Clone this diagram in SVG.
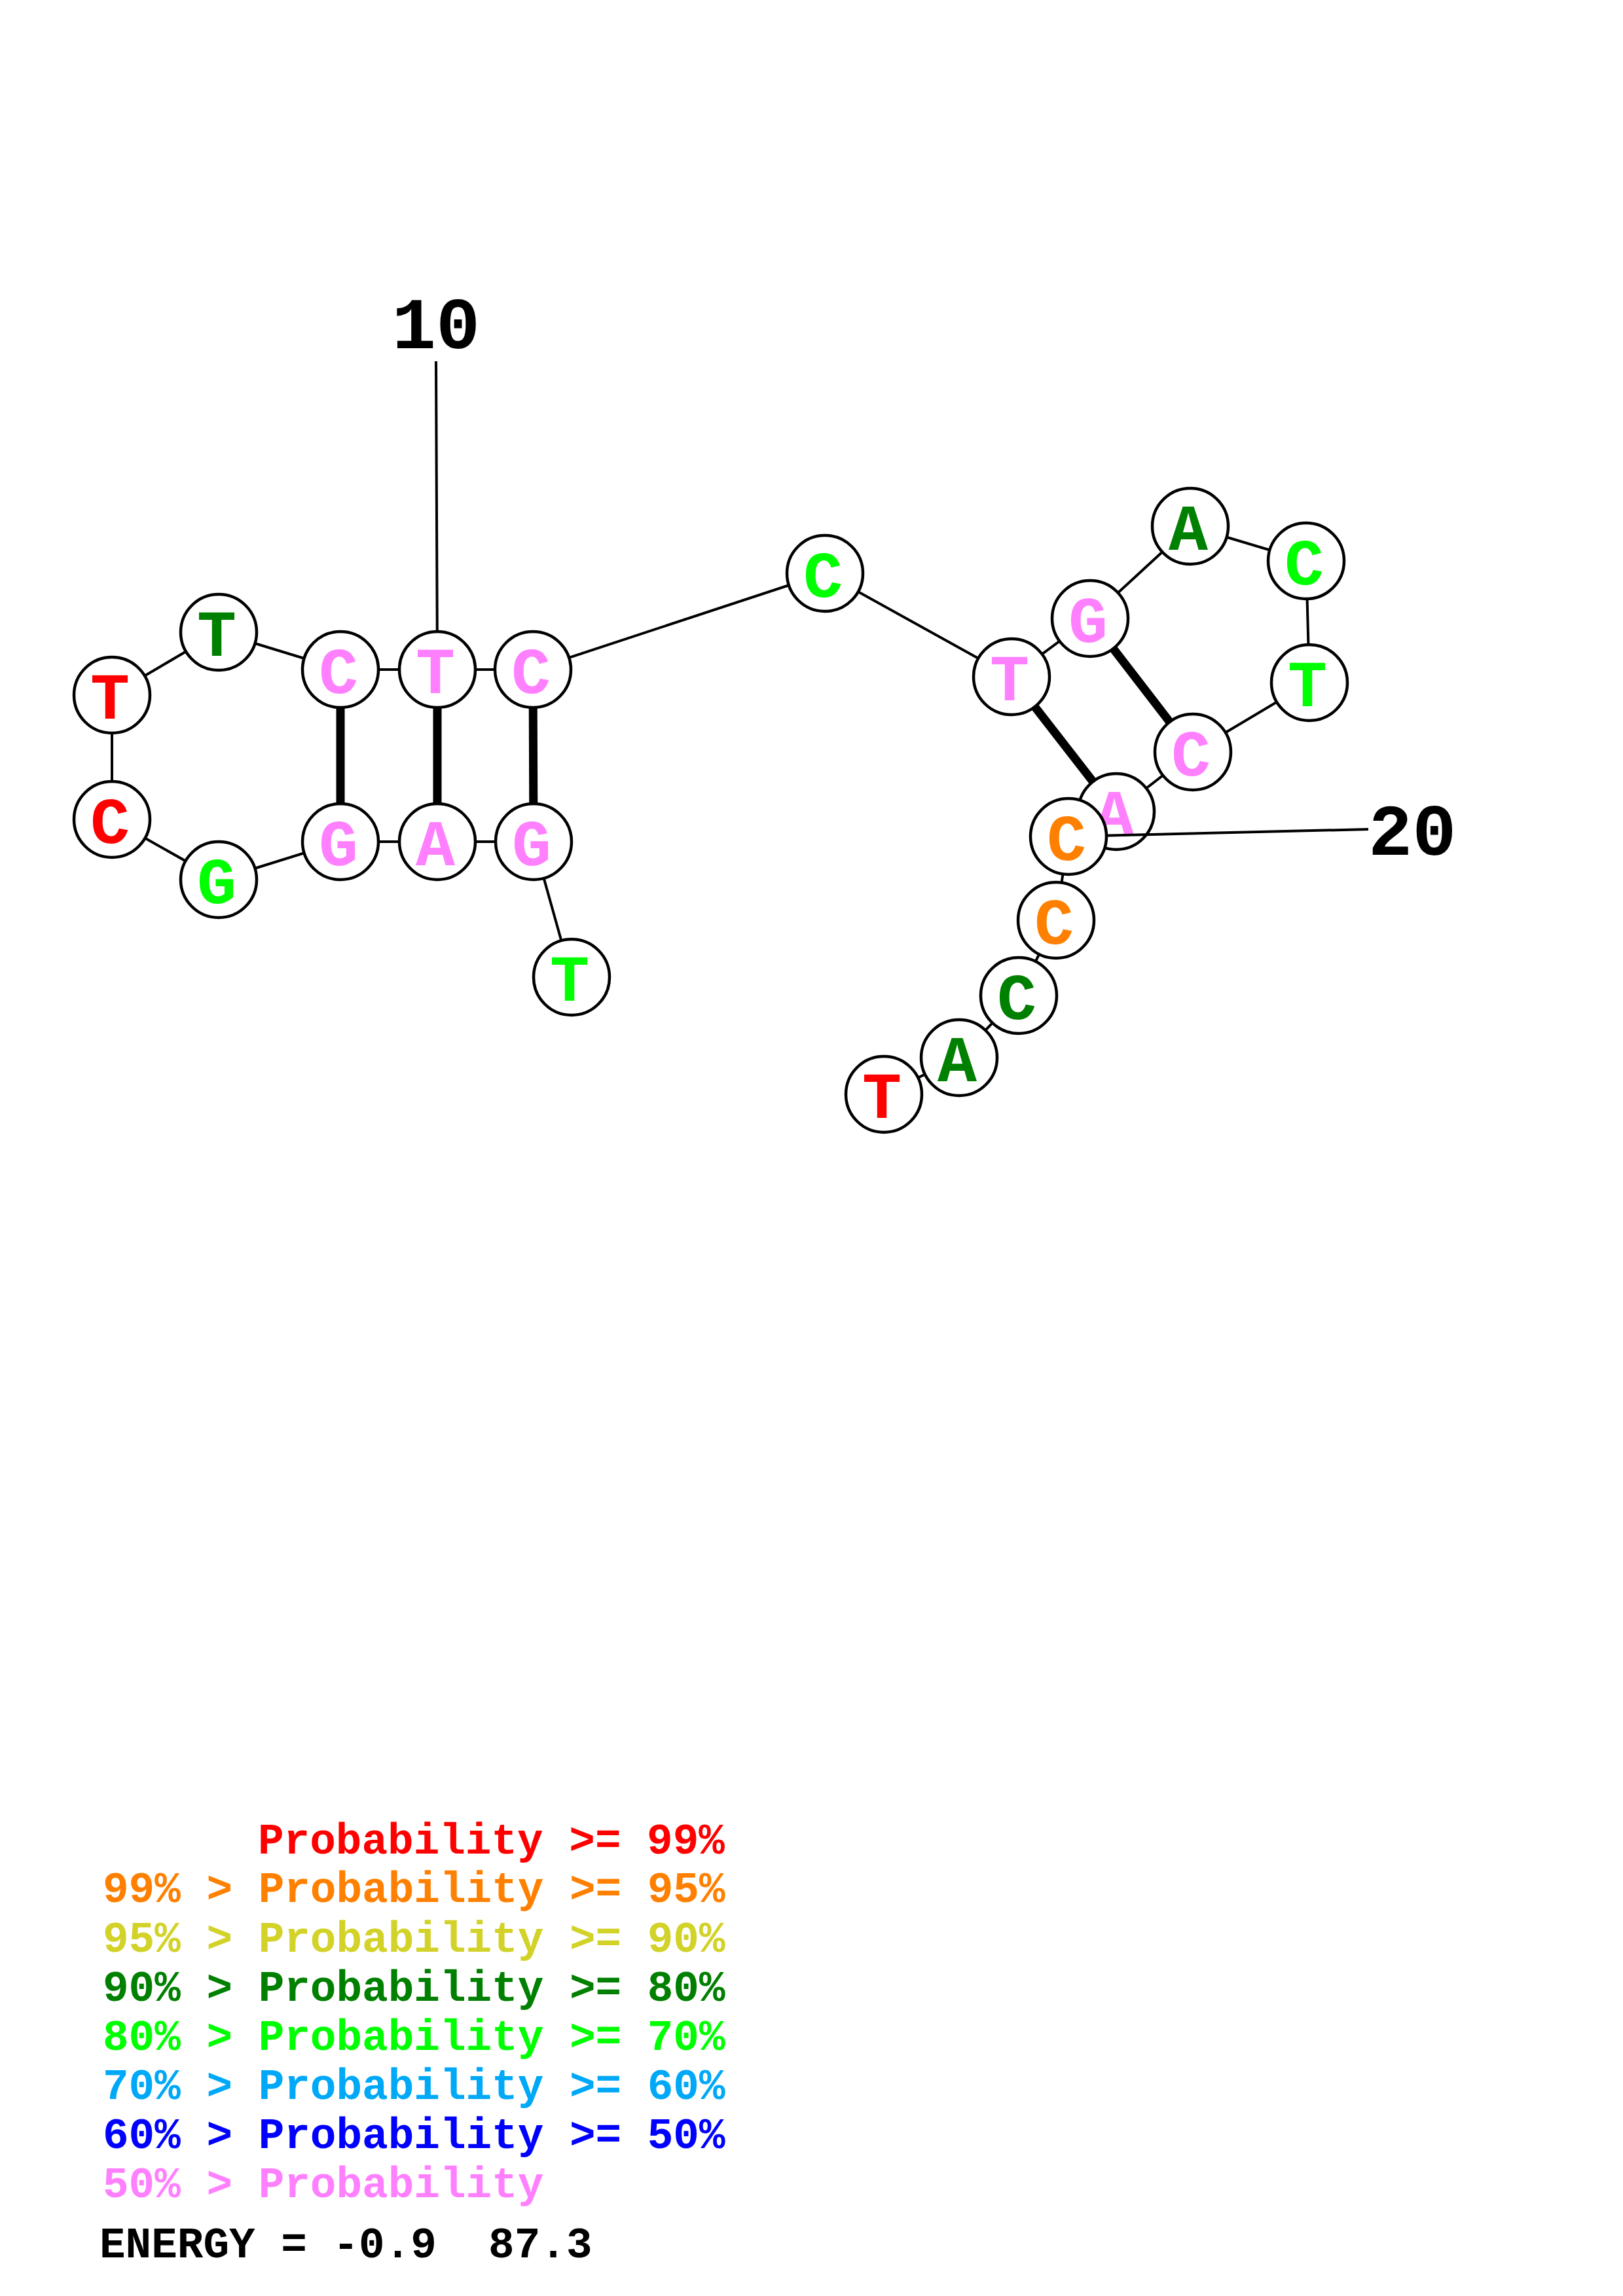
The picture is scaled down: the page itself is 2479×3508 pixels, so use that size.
<svg xmlns="http://www.w3.org/2000/svg" width="2479" height="3508" viewBox="0 0 2479 3508">
<style>
.bb{stroke:#000;stroke-width:4;fill:none}
.bp{stroke:#000;stroke-width:13;fill:none}
.nc{fill:#fff;stroke:#000;stroke-width:4.5}
.nt{font-family:"Liberation Mono","DejaVu Sans Mono",monospace;font-weight:bold;font-size:100px;text-anchor:middle}
.lbl{font-family:"Liberation Mono","DejaVu Sans Mono",monospace;font-weight:bold;font-size:112px;fill:#000}
.lg{font-family:"Liberation Mono","DejaVu Sans Mono",monospace;font-weight:bold;font-size:66px;white-space:pre}
.red{fill:#ff0000}.org{fill:#ff8000}.yel{fill:#d2d228}.dg{fill:#008000}.gr{fill:#00ff00}.lb{fill:#00a8f8}.bl{fill:#0000ff}.pk{fill:#ff80ff}.blk{fill:#000}
</style>
<defs>
<circle id="n" r="58" class="nc"/>
</defs>
<g id="connectors">
<line class="bb" x1="666" y1="552" x2="668" y2="1023"/>
<polyline class="bb" points="873,1493 815,1286 668,1286 520,1286 334,1344 171,1252 171,1062 334,966 520,1023 668,1023 814,1023 1260,876 1545,1034 1665,945 1818,804 1995,857 2000,1043 1822,1149 1705,1240 1632,1278 1613,1406 1556,1521 1465,1616 1350,1672"/>
<line class="bp" x1="520" y1="1286" x2="520" y2="1023"/>
<line class="bp" x1="668" y1="1286" x2="668" y2="1023"/>
<line class="bp" x1="815" y1="1286" x2="814" y2="1023"/>
<line class="bp" x1="1545" y1="1034" x2="1705" y2="1240"/>
<line class="bp" x1="1665" y1="945" x2="1822" y2="1149"/>
</g>
<g id="node1"><use href="#n" x="873" y="1493"/><text class="nt gr" x="870" y="1529">T</text></g>
<g id="node2"><use href="#n" x="815" y="1286"/><text class="nt pk" x="812" y="1322">G</text></g>
<g id="node3"><use href="#n" x="668" y="1286"/><text class="nt pk" x="665" y="1322">A</text></g>
<g id="node4"><use href="#n" x="520" y="1286"/><text class="nt pk" x="517" y="1322">G</text></g>
<g id="node5"><use href="#n" x="334" y="1344"/><text class="nt gr" x="331" y="1380">G</text></g>
<g id="node6"><use href="#n" x="171" y="1252"/><text class="nt red" x="168" y="1288">C</text></g>
<g id="node7"><use href="#n" x="171" y="1062"/><text class="nt red" x="168" y="1098">T</text></g>
<g id="node8"><use href="#n" x="334" y="966"/><text class="nt dg" x="331" y="1002">T</text></g>
<g id="node9"><use href="#n" x="520" y="1023"/><text class="nt pk" x="517" y="1059">C</text></g>
<g id="node10"><use href="#n" x="668" y="1023"/><text class="nt pk" x="665" y="1059">T</text></g>
<g id="node11"><use href="#n" x="814" y="1023"/><text class="nt pk" x="811" y="1059">C</text></g>
<g id="node12"><use href="#n" x="1260" y="876"/><text class="nt gr" x="1257" y="912">C</text></g>
<g id="node13"><use href="#n" x="1545" y="1034"/><text class="nt pk" x="1542" y="1070">T</text></g>
<g id="node14"><use href="#n" x="1665" y="945"/><text class="nt pk" x="1662" y="981">G</text></g>
<g id="node15"><use href="#n" x="1818" y="804"/><text class="nt dg" x="1815" y="840">A</text></g>
<g id="node16"><use href="#n" x="1995" y="857"/><text class="nt gr" x="1992" y="893">C</text></g>
<g id="node17"><use href="#n" x="2000" y="1043"/><text class="nt gr" x="1997" y="1079">T</text></g>
<g id="node18"><use href="#n" x="1822" y="1149"/><text class="nt pk" x="1819" y="1185">C</text></g>
<g id="node19"><use href="#n" x="1705" y="1240"/><text class="nt pk" x="1702" y="1276">A</text></g>
<g id="label20line"><line class="bb" x1="2090" y1="1267" x2="1632" y2="1278"/></g>
<g id="node20"><use href="#n" x="1632" y="1278"/><text class="nt org" x="1629" y="1314">C</text></g>
<g id="node21"><use href="#n" x="1613" y="1406"/><text class="nt org" x="1610" y="1442">C</text></g>
<g id="node22"><use href="#n" x="1556" y="1521"/><text class="nt dg" x="1553" y="1557">C</text></g>
<g id="node23"><use href="#n" x="1465" y="1616"/><text class="nt dg" x="1462" y="1652">A</text></g>
<g id="node24"><use href="#n" x="1350" y="1672"/><text class="nt red" x="1347" y="1708">T</text></g>
<g id="labels">
<text class="lbl" x="666" y="532" text-anchor="middle">10</text>
<text class="lbl" x="2090" y="1306">20</text>
</g>
<g id="legend">
<text class="lg red" x="394" y="2832">Probability &gt;= 99%</text>
<text class="lg org" x="157" y="2906">99% &gt; Probability &gt;= 95%</text>
<text class="lg yel" x="157" y="2982">95% &gt; Probability &gt;= 90%</text>
<text class="lg dg" x="157" y="3057">90% &gt; Probability &gt;= 80%</text>
<text class="lg gr" x="157" y="3132">80% &gt; Probability &gt;= 70%</text>
<text class="lg lb" x="157" y="3207">70% &gt; Probability &gt;= 60%</text>
<text class="lg bl" x="157" y="3282">60% &gt; Probability &gt;= 50%</text>
<text class="lg pk" x="157" y="3357">50% &gt; Probability</text>
<text class="lg blk" x="152" y="3449">ENERGY = -0.9  87.3</text>
</g>
</svg>
